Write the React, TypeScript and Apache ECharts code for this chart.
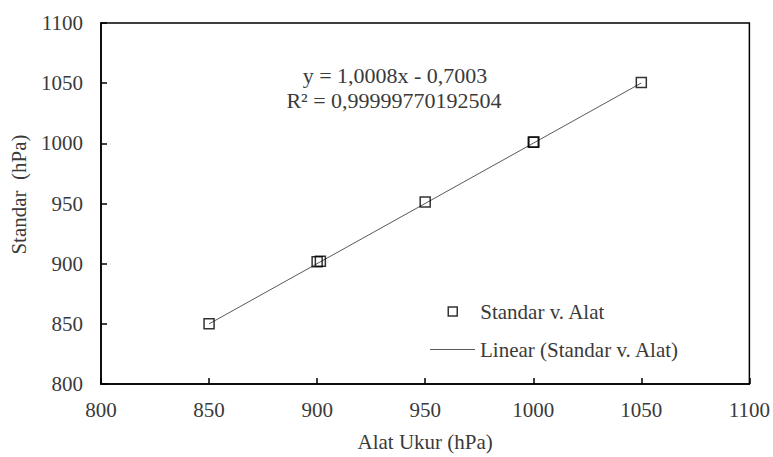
import React, { useEffect, useRef } from "react";
import * as echarts from "echarts";

const alatUkur = [850, 900, 901.5, 950, 1000, 1000.3, 1050];
const standar = [850, 901.5, 902, 951.2, 1001, 1001.2, 1050.6];
const trendX = [850, 1050];
const slope = 1.0008;
const intercept = -0.7003;
const eqText = "y = 1,0008x - 0,7003";
const r2Text = "R² = 0,99999770192504";
const seriesName = "Standar v. Alat";
const trendName = "Linear (Standar v. Alat)";

const FONT = "Liberation Serif";
const TXT = "#3a3a3a";
const FS = 21;

export default function App() {
  const ref = useRef<HTMLDivElement>(null);
  useEffect(() => {
    if (!ref.current) return;
    const chart = echarts.init(ref.current, undefined, { renderer: "svg" });
    const trendData = trendX.map((x) => [x, slope * x + intercept]);
    chart.setOption({
      animation: false,
      backgroundColor: "#fff",
      textStyle: { fontFamily: FONT, color: TXT },
      grid: {
        left: 101,
        right: 23,
        top: 23,
        bottom: 69,
        show: true,
        borderColor: "#000",
        borderWidth: 1.5,
      },
      xAxis: {
        type: "value",
        min: 800,
        max: 1100,
        interval: 50,
        name: "Alat Ukur (hPa)",
        nameLocation: "middle",
        nameGap: 47,
        nameTextStyle: { fontFamily: FONT, fontSize: FS, color: TXT },
        axisLine: { lineStyle: { color: "#000", width: 1.5 } },
        axisTick: { inside: true, length: 6, lineStyle: { color: "#000", width: 1.5 } },
        axisLabel: { fontFamily: FONT, fontSize: FS, color: TXT, margin: 15, formatter: (v: number) => String(v) },
        splitLine: { show: false },
      },
      yAxis: {
        type: "value",
        min: 800,
        max: 1100,
        interval: 50,
        name: "Standar  (hPa)",
        nameLocation: "middle",
        nameGap: 72,
        nameTextStyle: { fontFamily: FONT, fontSize: FS, color: TXT, padding: [0, 0, 0, 18] },
        axisLine: { lineStyle: { color: "#000", width: 1.5 } },
        axisTick: { inside: true, length: 6, lineStyle: { color: "#000", width: 1.5 } },
        axisLabel: { fontFamily: FONT, fontSize: FS, color: TXT, margin: 18, formatter: (v: number) => String(v) },
        splitLine: { show: false },
      },
      legend: [
        {
          data: [seriesName],
          orient: "vertical",
          left: 447.5,
          top: 301,
          padding: 0,
          itemWidth: 45,
          itemHeight: 9,
          icon: "path://M0,0h10v10h-10z",
          itemStyle: { color: "transparent", borderColor: "#000", borderWidth: 1.5 },
          textStyle: { fontFamily: FONT, fontSize: FS, color: TXT },
          selectedMode: false,
        },
        {
          data: [trendName],
          orient: "vertical",
          left: 430,
          top: 339,
          padding: 0,
          itemWidth: 45,
          itemHeight: 14,
          icon: "path://M0,0h45v1h-45z",
          itemStyle: { color: "#595959", borderWidth: 0 },
          textStyle: { fontFamily: FONT, fontSize: FS, color: TXT },
          selectedMode: false,
        },
      ],
      graphic: [
        {
          type: "text",
          style: {
            text: eqText,
            x: 395,
            y: 75,
            align: "center",
            verticalAlign: "middle",
            fontFamily: FONT,
            fontSize: 22,
            fill: TXT,
          },
        },
        {
          type: "text",
          style: {
            text: r2Text,
            x: 394,
            y: 100,
            align: "center",
            verticalAlign: "middle",
            fontFamily: FONT,
            fontSize: 22,
            fill: TXT,
          },
        },
      ],
      series: [
        {
          name: trendName,
          type: "line",
          data: trendData,
          symbol: "none",
          lineStyle: { color: "#595959", width: 1 },
          z: 1,
        },
        {
          name: seriesName,
          type: "scatter",
          data: alatUkur.map((x, i) => [x, standar[i]]),
          symbol: "rect",
          symbolSize: 10,
          itemStyle: { color: "transparent", borderColor: "#000", borderWidth: 1.5 },
          z: 2,
        },
      ],
    });
    return () => chart.dispose();
  }, []);
  return <div ref={ref} style={{ width: 773, height: 457, position: "absolute", left: 0, top: 0 }} />;
}
